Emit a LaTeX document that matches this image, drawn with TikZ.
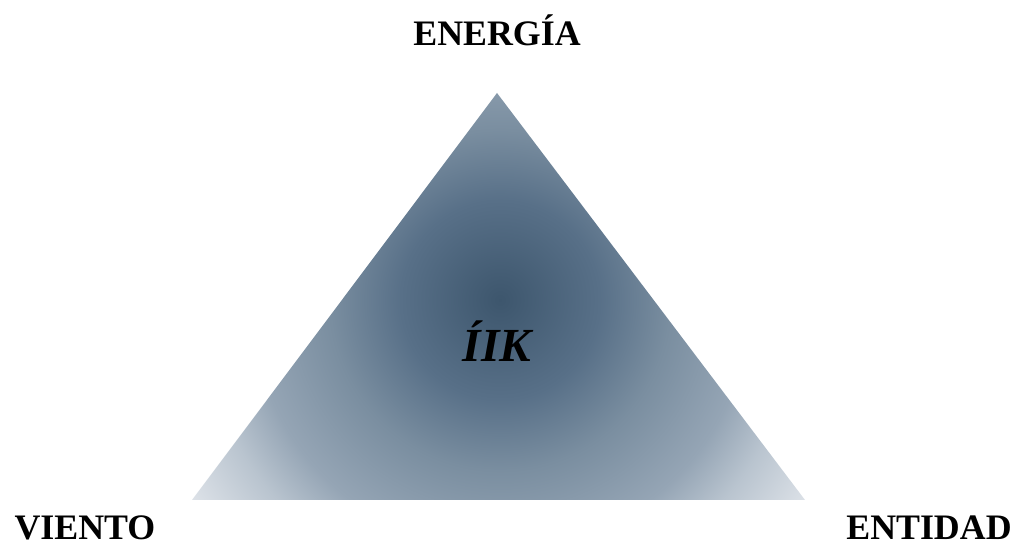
\documentclass[tikz,border=0pt]{standalone}
\usepackage{fontspec}
\setmainfont{Liberation Serif}
\usepackage{xcolor}
\usepackage{tikz}
\usetikzlibrary{positioning, calc}
\definecolor{kcore}{HTML}{3D566D}
\definecolor{kmid}{HTML}{587088}
\definecolor{kedge}{HTML}{7A8EA0}
\definecolor{kpale}{HTML}{95A5B5}
\definecolor{kfaint}{HTML}{B9C4CF}
\definecolor{kcorner}{HTML}{DDE2E8}
\pgfdeclareradialshading{iikglow}{\pgfpoint{0bp}{0bp}}{%
  color(0bp)=(kcore); color(6.8bp)=(kmid); color(11.6bp)=(kedge);
  color(17bp)=(kpale); color(20.4bp)=(kfaint); color(25bp)=(kcorner);
  color(50bp)=(kcorner)}
\tikzset{
  cornerlabel/.style={font=\fontsize{10.2}{12}\selectfont\bfseries, anchor=base, inner sep=0pt},
  corelabel/.style={font=\fontsize{13.5}{16}\selectfont\bfseries\itshape, anchor=base, inner sep=0pt},
}
\begin{document}
\begin{tikzpicture}[x=1cm, y=1cm]
  \useasboundingbox (0,0) rectangle (10.16,5.43);

  %% triangle corners and shading centre
  \coordinate (apex) at (4.97,4.50);
  \coordinate (left) at (1.92,0.43);
  \coordinate (right) at (8.05,0.43);
  \coordinate (glow) at (5.00,2.43);

  %% shaded triangle
  \begin{scope}
    \clip (apex) -- (left) -- (right) -- cycle;
    \shade[shading=iikglow] (glow) circle[radius=3.67];
  \end{scope}

  %% labels
  \node[cornerlabel] (energia) at (4.97,4.97) {ENERGÍA};
  \node[cornerlabel] (viento) at (0.85,0.03) {VIENTO};
  \node[cornerlabel] (entidad) at (9.29,0.03) {ENTIDAD};
  \node[corelabel] (iik) at (4.97,1.81) {ÍIK};

\end{tikzpicture}
\end{document}
